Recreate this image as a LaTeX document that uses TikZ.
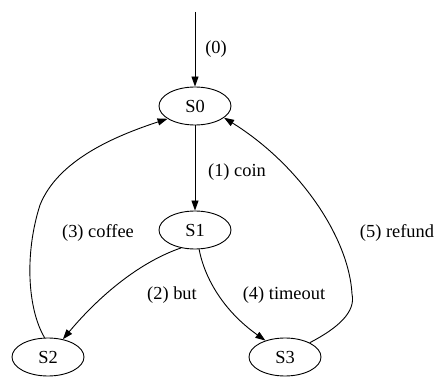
\documentclass[tikz,border=0pt]{standalone}
\usepackage{fontspec}
\setmainfont{Liberation Serif}
\usetikzlibrary{arrows.meta,shapes.geometric}
\begin{document}
\begin{tikzpicture}[x=1pt,y=-1pt,
  state/.style={draw,ellipse,line width=0.9pt,minimum width=72pt,minimum height=38pt,inner sep=0pt,font=\fontsize{18.4}{20}\selectfont},
  lbl/.style={inner sep=0pt,font=\fontsize{18.4}{20}\selectfont},
  edge/.style={line width=0.9pt,-{Triangle[length=10pt,width=7pt]}}]
\useasboundingbox (0,0) rectangle (434,377);

% states
\node[state] (S0) at (195,106) {S0};
\node[state] (S1) at (195,230) {S1};
\node[state] (S2) at (48,357) {S2};
\node[state] (S3) at (285,357) {S3};

% initial transition
\coordinate (init) at (195,12);
\draw[edge] (init) -- (S0);
\node[lbl] (l0) at (216,49) {(0)};

% coin
\draw[edge] (S0) -- (S1);
\node[lbl] (l1) at (237,172) {(1) coin};

% but
\draw[edge] (S1.232) .. controls (140,262) and (100,295) .. (S2.50);
\node[lbl] (l2) at (172,295) {(2) but};

% coffee
\draw[edge] (S2.100) .. controls (28,310) and (24,255) .. (40,205)
  .. controls (58,160) and (115,136) .. (S0.205);
\node[lbl] (l3) at (98,233) {(3) coffee};

% timeout
\draw[edge] (S1.-78) .. controls (205,280) and (225,312) .. (S3.140);
\node[lbl] (l4) at (284,295) {(4) timeout};

% refund
\draw[edge] (S3.30) .. controls (338,328) and (356,312) .. (352,294)
  .. controls (349,238) and (300,165) .. (S0.-22);
\node[lbl] (l5) at (397,233) {(5) refund};
\end{tikzpicture}
\end{document}
